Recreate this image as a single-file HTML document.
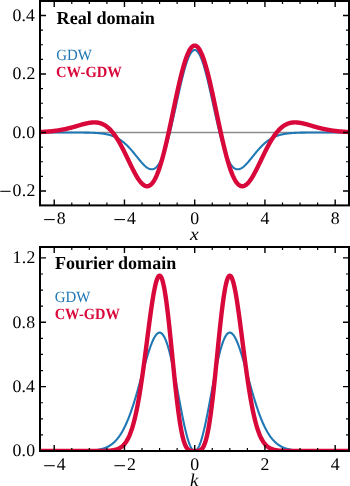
<!DOCTYPE html>
<html><head><meta charset="utf-8">
<style>
html,body{margin:0;padding:0;background:#fff;}
body{width:350px;height:486px;overflow:hidden;}
svg{display:block;will-change:transform;}
text{text-rendering:geometricPrecision;}
.tl{font-family:"Liberation Serif",serif;fill:#000;}
.tt{font-family:"Liberation Serif",serif;font-weight:bold;fill:#000;}
.lg{font-family:"Liberation Serif",serif;}
.ax{font-family:"Liberation Serif",serif;font-style:italic;fill:#000;}
</style></head><body>
<svg width="350" height="486" viewBox="0 0 350 486">
<defs>
<clipPath id="ct"><rect x="40.0" y="1.0" width="309.0" height="204.4"/></clipPath>
<clipPath id="cb"><rect x="40.0" y="247.0" width="309.0" height="204.0"/></clipPath>
</defs>
<rect width="350" height="486" fill="#fff"/>
<g clip-path="url(#ct)" fill="none" stroke-linejoin="round" stroke-linecap="butt">
<path d="M40.0,132.5H349.0" stroke="#8c8c8c" stroke-width="1.6"/>
<path d="M38.42,132.50 L38.86,132.50 L39.31,132.50 L39.76,132.50 L40.20,132.50 L40.65,132.50 L41.10,132.50 L41.55,132.50 L41.99,132.50 L42.44,132.50 L42.89,132.50 L43.33,132.50 L43.78,132.50 L44.23,132.50 L44.68,132.50 L45.12,132.50 L45.57,132.50 L46.02,132.50 L46.46,132.50 L46.91,132.50 L47.36,132.50 L47.81,132.50 L48.25,132.50 L48.70,132.50 L49.15,132.50 L49.60,132.50 L50.04,132.50 L50.49,132.50 L50.94,132.50 L51.38,132.50 L51.83,132.50 L52.28,132.50 L52.73,132.50 L53.17,132.50 L53.62,132.50 L54.07,132.50 L54.51,132.50 L54.96,132.50 L55.41,132.50 L55.86,132.50 L56.30,132.50 L56.75,132.50 L57.20,132.50 L57.64,132.50 L58.09,132.50 L58.54,132.50 L58.99,132.50 L59.43,132.50 L59.88,132.50 L60.33,132.50 L60.77,132.50 L61.22,132.50 L61.67,132.50 L62.12,132.50 L62.56,132.50 L63.01,132.50 L63.46,132.50 L63.90,132.50 L64.35,132.50 L64.80,132.50 L65.25,132.50 L65.69,132.50 L66.14,132.50 L66.59,132.50 L67.03,132.50 L67.48,132.50 L67.93,132.50 L68.38,132.50 L68.82,132.51 L69.27,132.51 L69.72,132.51 L70.16,132.51 L70.61,132.51 L71.06,132.51 L71.51,132.51 L71.95,132.51 L72.40,132.51 L72.85,132.51 L73.29,132.51 L73.74,132.51 L74.19,132.51 L74.64,132.52 L75.08,132.52 L75.53,132.52 L75.98,132.52 L76.42,132.52 L76.87,132.52 L77.32,132.52 L77.77,132.53 L78.21,132.53 L78.66,132.53 L79.11,132.53 L79.56,132.54 L80.00,132.54 L80.45,132.54 L80.90,132.55 L81.34,132.55 L81.79,132.55 L82.24,132.56 L82.69,132.56 L83.13,132.57 L83.58,132.57 L84.03,132.58 L84.47,132.58 L84.92,132.59 L85.37,132.59 L85.82,132.60 L86.26,132.61 L86.71,132.62 L87.16,132.62 L87.60,132.63 L88.05,132.64 L88.50,132.65 L88.95,132.66 L89.39,132.67 L89.84,132.69 L90.29,132.70 L90.73,132.71 L91.18,132.73 L91.63,132.74 L92.08,132.76 L92.52,132.78 L92.97,132.80 L93.42,132.82 L93.86,132.84 L94.31,132.86 L94.76,132.88 L95.21,132.91 L95.65,132.93 L96.10,132.96 L96.55,132.99 L96.99,133.02 L97.44,133.05 L97.89,133.09 L98.34,133.12 L98.78,133.16 L99.23,133.20 L99.68,133.24 L100.12,133.29 L100.57,133.34 L101.02,133.39 L101.47,133.44 L101.91,133.49 L102.36,133.55 L102.81,133.61 L103.25,133.68 L103.70,133.75 L104.15,133.82 L104.60,133.89 L105.04,133.97 L105.49,134.05 L105.94,134.13 L106.39,134.22 L106.83,134.32 L107.28,134.42 L107.73,134.52 L108.17,134.62 L108.62,134.74 L109.07,134.85 L109.52,134.97 L109.96,135.10 L110.41,135.23 L110.86,135.37 L111.30,135.52 L111.75,135.67 L112.20,135.82 L112.65,135.98 L113.09,136.15 L113.54,136.33 L113.99,136.51 L114.43,136.70 L114.88,136.90 L115.33,137.10 L115.78,137.31 L116.22,137.53 L116.67,137.76 L117.12,137.99 L117.56,138.23 L118.01,138.48 L118.46,138.74 L118.91,139.01 L119.35,139.29 L119.80,139.57 L120.25,139.86 L120.69,140.17 L121.14,140.48 L121.59,140.80 L122.04,141.13 L122.48,141.47 L122.93,141.82 L123.38,142.17 L123.82,142.54 L124.27,142.92 L124.72,143.30 L125.17,143.70 L125.61,144.10 L126.06,144.52 L126.51,144.94 L126.95,145.37 L127.40,145.81 L127.85,146.26 L128.30,146.72 L128.74,147.18 L129.19,147.66 L129.64,148.14 L130.08,148.63 L130.53,149.13 L130.98,149.63 L131.43,150.14 L131.87,150.66 L132.32,151.18 L132.77,151.71 L133.21,152.25 L133.66,152.79 L134.11,153.33 L134.56,153.88 L135.00,154.43 L135.45,154.98 L135.90,155.54 L136.35,156.09 L136.79,156.65 L137.24,157.21 L137.69,157.76 L138.13,158.32 L138.58,158.87 L139.03,159.42 L139.48,159.96 L139.92,160.50 L140.37,161.04 L140.82,161.56 L141.26,162.08 L141.71,162.59 L142.16,163.09 L142.61,163.58 L143.05,164.06 L143.50,164.52 L143.95,164.97 L144.39,165.41 L144.84,165.83 L145.29,166.23 L145.74,166.61 L146.18,166.97 L146.63,167.31 L147.08,167.63 L147.52,167.93 L147.97,168.20 L148.42,168.44 L148.87,168.66 L149.31,168.85 L149.76,169.00 L150.21,169.13 L150.65,169.23 L151.10,169.29 L151.55,169.32 L152.00,169.31 L152.44,169.27 L152.89,169.19 L153.34,169.07 L153.78,168.91 L154.23,168.71 L154.68,168.47 L155.13,168.18 L155.57,167.85 L156.02,167.48 L156.47,167.06 L156.91,166.60 L157.36,166.09 L157.81,165.53 L158.26,164.93 L158.70,164.28 L159.15,163.57 L159.60,162.82 L160.04,162.02 L160.49,161.18 L160.94,160.28 L161.39,159.33 L161.83,158.33 L162.28,157.28 L162.73,156.19 L163.17,155.04 L163.62,153.85 L164.07,152.60 L164.52,151.31 L164.96,149.98 L165.41,148.59 L165.86,147.17 L166.31,145.69 L166.75,144.17 L167.20,142.61 L167.65,141.01 L168.09,139.37 L168.54,137.69 L168.99,135.98 L169.44,134.22 L169.88,132.44 L170.33,130.62 L170.78,128.77 L171.22,126.89 L171.67,124.98 L172.12,123.05 L172.57,121.10 L173.01,119.13 L173.46,117.14 L173.91,115.13 L174.35,113.11 L174.80,111.08 L175.25,109.04 L175.70,106.99 L176.14,104.94 L176.59,102.89 L177.04,100.84 L177.48,98.80 L177.93,96.76 L178.38,94.73 L178.83,92.72 L179.27,90.72 L179.72,88.74 L180.17,86.78 L180.61,84.85 L181.06,82.94 L181.51,81.06 L181.96,79.22 L182.40,77.41 L182.85,75.63 L183.30,73.90 L183.74,72.21 L184.19,70.56 L184.64,68.97 L185.09,67.42 L185.53,65.93 L185.98,64.49 L186.43,63.10 L186.87,61.78 L187.32,60.52 L187.77,59.32 L188.22,58.19 L188.66,57.12 L189.11,56.13 L189.56,55.20 L190.00,54.35 L190.45,53.57 L190.90,52.86 L191.35,52.23 L191.79,51.67 L192.24,51.20 L192.69,50.80 L193.13,50.48 L193.58,50.24 L194.03,50.08 L194.48,50.00 L194.92,50.00 L195.37,50.08 L195.82,50.24 L196.27,50.48 L196.71,50.80 L197.16,51.20 L197.61,51.67 L198.05,52.23 L198.50,52.86 L198.95,53.57 L199.40,54.35 L199.84,55.20 L200.29,56.13 L200.74,57.12 L201.18,58.19 L201.63,59.32 L202.08,60.52 L202.53,61.78 L202.97,63.10 L203.42,64.49 L203.87,65.93 L204.31,67.42 L204.76,68.97 L205.21,70.56 L205.66,72.21 L206.10,73.90 L206.55,75.63 L207.00,77.41 L207.44,79.22 L207.89,81.06 L208.34,82.94 L208.79,84.85 L209.23,86.78 L209.68,88.74 L210.13,90.72 L210.57,92.72 L211.02,94.73 L211.47,96.76 L211.92,98.80 L212.36,100.84 L212.81,102.89 L213.26,104.94 L213.70,106.99 L214.15,109.04 L214.60,111.08 L215.05,113.11 L215.49,115.13 L215.94,117.14 L216.39,119.13 L216.83,121.10 L217.28,123.05 L217.73,124.98 L218.18,126.89 L218.62,128.77 L219.07,130.62 L219.52,132.44 L219.96,134.22 L220.41,135.98 L220.86,137.69 L221.31,139.37 L221.75,141.01 L222.20,142.61 L222.65,144.17 L223.09,145.69 L223.54,147.17 L223.99,148.59 L224.44,149.98 L224.88,151.31 L225.33,152.60 L225.78,153.85 L226.23,155.04 L226.67,156.19 L227.12,157.28 L227.57,158.33 L228.01,159.33 L228.46,160.28 L228.91,161.18 L229.36,162.02 L229.80,162.82 L230.25,163.57 L230.70,164.28 L231.14,164.93 L231.59,165.53 L232.04,166.09 L232.49,166.60 L232.93,167.06 L233.38,167.48 L233.83,167.85 L234.27,168.18 L234.72,168.47 L235.17,168.71 L235.62,168.91 L236.06,169.07 L236.51,169.19 L236.96,169.27 L237.40,169.31 L237.85,169.32 L238.30,169.29 L238.75,169.23 L239.19,169.13 L239.64,169.00 L240.09,168.85 L240.53,168.66 L240.98,168.44 L241.43,168.20 L241.88,167.93 L242.32,167.63 L242.77,167.31 L243.22,166.97 L243.66,166.61 L244.11,166.23 L244.56,165.83 L245.01,165.41 L245.45,164.97 L245.90,164.52 L246.35,164.06 L246.79,163.58 L247.24,163.09 L247.69,162.59 L248.14,162.08 L248.58,161.56 L249.03,161.04 L249.48,160.50 L249.92,159.96 L250.37,159.42 L250.82,158.87 L251.27,158.32 L251.71,157.76 L252.16,157.21 L252.61,156.65 L253.05,156.09 L253.50,155.54 L253.95,154.98 L254.40,154.43 L254.84,153.88 L255.29,153.33 L255.74,152.79 L256.19,152.25 L256.63,151.71 L257.08,151.18 L257.53,150.66 L257.97,150.14 L258.42,149.63 L258.87,149.13 L259.32,148.63 L259.76,148.14 L260.21,147.66 L260.66,147.18 L261.10,146.72 L261.55,146.26 L262.00,145.81 L262.45,145.37 L262.89,144.94 L263.34,144.52 L263.79,144.10 L264.23,143.70 L264.68,143.30 L265.13,142.92 L265.58,142.54 L266.02,142.17 L266.47,141.82 L266.92,141.47 L267.36,141.13 L267.81,140.80 L268.26,140.48 L268.71,140.17 L269.15,139.86 L269.60,139.57 L270.05,139.29 L270.49,139.01 L270.94,138.74 L271.39,138.48 L271.84,138.23 L272.28,137.99 L272.73,137.76 L273.18,137.53 L273.62,137.31 L274.07,137.10 L274.52,136.90 L274.97,136.70 L275.41,136.51 L275.86,136.33 L276.31,136.15 L276.75,135.98 L277.20,135.82 L277.65,135.67 L278.10,135.52 L278.54,135.37 L278.99,135.23 L279.44,135.10 L279.88,134.97 L280.33,134.85 L280.78,134.74 L281.23,134.62 L281.67,134.52 L282.12,134.42 L282.57,134.32 L283.01,134.22 L283.46,134.13 L283.91,134.05 L284.36,133.97 L284.80,133.89 L285.25,133.82 L285.70,133.75 L286.15,133.68 L286.59,133.61 L287.04,133.55 L287.49,133.49 L287.93,133.44 L288.38,133.39 L288.83,133.34 L289.28,133.29 L289.72,133.24 L290.17,133.20 L290.62,133.16 L291.06,133.12 L291.51,133.09 L291.96,133.05 L292.41,133.02 L292.85,132.99 L293.30,132.96 L293.75,132.93 L294.19,132.91 L294.64,132.88 L295.09,132.86 L295.54,132.84 L295.98,132.82 L296.43,132.80 L296.88,132.78 L297.32,132.76 L297.77,132.74 L298.22,132.73 L298.67,132.71 L299.11,132.70 L299.56,132.69 L300.01,132.67 L300.45,132.66 L300.90,132.65 L301.35,132.64 L301.80,132.63 L302.24,132.62 L302.69,132.62 L303.14,132.61 L303.58,132.60 L304.03,132.59 L304.48,132.59 L304.93,132.58 L305.37,132.58 L305.82,132.57 L306.27,132.57 L306.71,132.56 L307.16,132.56 L307.61,132.55 L308.06,132.55 L308.50,132.55 L308.95,132.54 L309.40,132.54 L309.84,132.54 L310.29,132.53 L310.74,132.53 L311.19,132.53 L311.63,132.53 L312.08,132.52 L312.53,132.52 L312.98,132.52 L313.42,132.52 L313.87,132.52 L314.32,132.52 L314.76,132.52 L315.21,132.51 L315.66,132.51 L316.11,132.51 L316.55,132.51 L317.00,132.51 L317.45,132.51 L317.89,132.51 L318.34,132.51 L318.79,132.51 L319.24,132.51 L319.68,132.51 L320.13,132.51 L320.58,132.51 L321.02,132.50 L321.47,132.50 L321.92,132.50 L322.37,132.50 L322.81,132.50 L323.26,132.50 L323.71,132.50 L324.15,132.50 L324.60,132.50 L325.05,132.50 L325.50,132.50 L325.94,132.50 L326.39,132.50 L326.84,132.50 L327.28,132.50 L327.73,132.50 L328.18,132.50 L328.63,132.50 L329.07,132.50 L329.52,132.50 L329.97,132.50 L330.41,132.50 L330.86,132.50 L331.31,132.50 L331.76,132.50 L332.20,132.50 L332.65,132.50 L333.10,132.50 L333.54,132.50 L333.99,132.50 L334.44,132.50 L334.89,132.50 L335.33,132.50 L335.78,132.50 L336.23,132.50 L336.67,132.50 L337.12,132.50 L337.57,132.50 L338.02,132.50 L338.46,132.50 L338.91,132.50 L339.36,132.50 L339.80,132.50 L340.25,132.50 L340.70,132.50 L341.15,132.50 L341.59,132.50 L342.04,132.50 L342.49,132.50 L342.94,132.50 L343.38,132.50 L343.83,132.50 L344.28,132.50 L344.72,132.50 L345.17,132.50 L345.62,132.50 L346.07,132.50 L346.51,132.50 L346.96,132.50 L347.41,132.50 L347.85,132.50 L348.30,132.50 L348.75,132.50 L349.20,132.50 L349.64,132.50 L350.09,132.50 L350.54,132.50 L350.98,132.50" stroke="#1f77b4" stroke-width="2.1"/>
<path d="M38.42,132.10 L38.86,132.08 L39.31,132.06 L39.76,132.04 L40.20,132.02 L40.65,132.00 L41.10,131.98 L41.55,131.96 L41.99,131.94 L42.44,131.92 L42.89,131.89 L43.33,131.87 L43.78,131.84 L44.23,131.81 L44.68,131.78 L45.12,131.76 L45.57,131.73 L46.02,131.69 L46.46,131.66 L46.91,131.63 L47.36,131.60 L47.81,131.56 L48.25,131.52 L48.70,131.49 L49.15,131.45 L49.60,131.41 L50.04,131.37 L50.49,131.32 L50.94,131.28 L51.38,131.23 L51.83,131.19 L52.28,131.14 L52.73,131.09 L53.17,131.04 L53.62,130.99 L54.07,130.93 L54.51,130.88 L54.96,130.82 L55.41,130.76 L55.86,130.70 L56.30,130.64 L56.75,130.58 L57.20,130.52 L57.64,130.45 L58.09,130.38 L58.54,130.31 L58.99,130.24 L59.43,130.17 L59.88,130.09 L60.33,130.01 L60.77,129.94 L61.22,129.86 L61.67,129.77 L62.12,129.69 L62.56,129.60 L63.01,129.52 L63.46,129.43 L63.90,129.34 L64.35,129.24 L64.80,129.15 L65.25,129.05 L65.69,128.96 L66.14,128.86 L66.59,128.75 L67.03,128.65 L67.48,128.55 L67.93,128.44 L68.38,128.33 L68.82,128.22 L69.27,128.11 L69.72,128.00 L70.16,127.88 L70.61,127.77 L71.06,127.65 L71.51,127.53 L71.95,127.41 L72.40,127.29 L72.85,127.17 L73.29,127.04 L73.74,126.92 L74.19,126.79 L74.64,126.67 L75.08,126.54 L75.53,126.41 L75.98,126.28 L76.42,126.15 L76.87,126.02 L77.32,125.89 L77.77,125.76 L78.21,125.63 L78.66,125.50 L79.11,125.37 L79.56,125.24 L80.00,125.12 L80.45,124.99 L80.90,124.86 L81.34,124.73 L81.79,124.61 L82.24,124.48 L82.69,124.36 L83.13,124.24 L83.58,124.12 L84.03,124.00 L84.47,123.89 L84.92,123.78 L85.37,123.67 L85.82,123.56 L86.26,123.46 L86.71,123.35 L87.16,123.26 L87.60,123.16 L88.05,123.08 L88.50,122.99 L88.95,122.91 L89.39,122.83 L89.84,122.76 L90.29,122.70 L90.73,122.64 L91.18,122.58 L91.63,122.54 L92.08,122.50 L92.52,122.46 L92.97,122.43 L93.42,122.41 L93.86,122.40 L94.31,122.39 L94.76,122.40 L95.21,122.41 L95.65,122.43 L96.10,122.46 L96.55,122.50 L96.99,122.55 L97.44,122.61 L97.89,122.67 L98.34,122.75 L98.78,122.84 L99.23,122.94 L99.68,123.06 L100.12,123.18 L100.57,123.32 L101.02,123.47 L101.47,123.63 L101.91,123.80 L102.36,123.99 L102.81,124.19 L103.25,124.40 L103.70,124.63 L104.15,124.88 L104.60,125.13 L105.04,125.40 L105.49,125.69 L105.94,125.99 L106.39,126.31 L106.83,126.64 L107.28,126.99 L107.73,127.35 L108.17,127.73 L108.62,128.12 L109.07,128.54 L109.52,128.96 L109.96,129.41 L110.41,129.87 L110.86,130.34 L111.30,130.84 L111.75,131.35 L112.20,131.87 L112.65,132.41 L113.09,132.97 L113.54,133.55 L113.99,134.14 L114.43,134.75 L114.88,135.37 L115.33,136.01 L115.78,136.67 L116.22,137.34 L116.67,138.02 L117.12,138.73 L117.56,139.44 L118.01,140.17 L118.46,140.92 L118.91,141.68 L119.35,142.45 L119.80,143.24 L120.25,144.04 L120.69,144.85 L121.14,145.67 L121.59,146.51 L122.04,147.36 L122.48,148.21 L122.93,149.08 L123.38,149.95 L123.82,150.84 L124.27,151.73 L124.72,152.63 L125.17,153.54 L125.61,154.45 L126.06,155.36 L126.51,156.28 L126.95,157.21 L127.40,158.14 L127.85,159.07 L128.30,160.00 L128.74,160.93 L129.19,161.86 L129.64,162.78 L130.08,163.71 L130.53,164.63 L130.98,165.55 L131.43,166.46 L131.87,167.36 L132.32,168.26 L132.77,169.15 L133.21,170.03 L133.66,170.89 L134.11,171.75 L134.56,172.59 L135.00,173.42 L135.45,174.23 L135.90,175.03 L136.35,175.80 L136.79,176.56 L137.24,177.30 L137.69,178.02 L138.13,178.72 L138.58,179.39 L139.03,180.04 L139.48,180.66 L139.92,181.25 L140.37,181.82 L140.82,182.36 L141.26,182.87 L141.71,183.34 L142.16,183.79 L142.61,184.20 L143.05,184.57 L143.50,184.91 L143.95,185.22 L144.39,185.49 L144.84,185.71 L145.29,185.90 L145.74,186.05 L146.18,186.16 L146.63,186.23 L147.08,186.25 L147.52,186.23 L147.97,186.16 L148.42,186.05 L148.87,185.90 L149.31,185.70 L149.76,185.45 L150.21,185.15 L150.65,184.81 L151.10,184.42 L151.55,183.98 L152.00,183.49 L152.44,182.95 L152.89,182.36 L153.34,181.72 L153.78,181.03 L154.23,180.29 L154.68,179.51 L155.13,178.67 L155.57,177.78 L156.02,176.84 L156.47,175.86 L156.91,174.82 L157.36,173.74 L157.81,172.60 L158.26,171.42 L158.70,170.19 L159.15,168.92 L159.60,167.60 L160.04,166.23 L160.49,164.82 L160.94,163.36 L161.39,161.86 L161.83,160.32 L162.28,158.74 L162.73,157.12 L163.17,155.46 L163.62,153.76 L164.07,152.02 L164.52,150.25 L164.96,148.45 L165.41,146.61 L165.86,144.74 L166.31,142.84 L166.75,140.91 L167.20,138.96 L167.65,136.98 L168.09,134.98 L168.54,132.96 L168.99,130.92 L169.44,128.86 L169.88,126.78 L170.33,124.69 L170.78,122.59 L171.22,120.48 L171.67,118.36 L172.12,116.23 L172.57,114.10 L173.01,111.97 L173.46,109.83 L173.91,107.70 L174.35,105.58 L174.80,103.45 L175.25,101.34 L175.70,99.24 L176.14,97.15 L176.59,95.07 L177.04,93.02 L177.48,90.98 L177.93,88.96 L178.38,86.96 L178.83,84.99 L179.27,83.05 L179.72,81.13 L180.17,79.25 L180.61,77.40 L181.06,75.59 L181.51,73.81 L181.96,72.07 L182.40,70.38 L182.85,68.72 L183.30,67.11 L183.74,65.55 L184.19,64.04 L184.64,62.57 L185.09,61.16 L185.53,59.80 L185.98,58.49 L186.43,57.24 L186.87,56.05 L187.32,54.92 L187.77,53.84 L188.22,52.83 L188.66,51.88 L189.11,50.99 L189.56,50.17 L190.00,49.41 L190.45,48.72 L190.90,48.10 L191.35,47.54 L191.79,47.05 L192.24,46.63 L192.69,46.28 L193.13,46.00 L193.58,45.79 L194.03,45.65 L194.48,45.58 L194.92,45.58 L195.37,45.65 L195.82,45.79 L196.27,46.00 L196.71,46.28 L197.16,46.63 L197.61,47.05 L198.05,47.54 L198.50,48.10 L198.95,48.72 L199.40,49.41 L199.84,50.17 L200.29,50.99 L200.74,51.88 L201.18,52.83 L201.63,53.84 L202.08,54.92 L202.53,56.05 L202.97,57.24 L203.42,58.49 L203.87,59.80 L204.31,61.16 L204.76,62.57 L205.21,64.04 L205.66,65.55 L206.10,67.11 L206.55,68.72 L207.00,70.38 L207.44,72.07 L207.89,73.81 L208.34,75.59 L208.79,77.40 L209.23,79.25 L209.68,81.13 L210.13,83.05 L210.57,84.99 L211.02,86.96 L211.47,88.96 L211.92,90.98 L212.36,93.02 L212.81,95.07 L213.26,97.15 L213.70,99.24 L214.15,101.34 L214.60,103.45 L215.05,105.58 L215.49,107.70 L215.94,109.83 L216.39,111.97 L216.83,114.10 L217.28,116.23 L217.73,118.36 L218.18,120.48 L218.62,122.59 L219.07,124.69 L219.52,126.78 L219.96,128.86 L220.41,130.92 L220.86,132.96 L221.31,134.98 L221.75,136.98 L222.20,138.96 L222.65,140.91 L223.09,142.84 L223.54,144.74 L223.99,146.61 L224.44,148.45 L224.88,150.25 L225.33,152.02 L225.78,153.76 L226.23,155.46 L226.67,157.12 L227.12,158.74 L227.57,160.32 L228.01,161.86 L228.46,163.36 L228.91,164.82 L229.36,166.23 L229.80,167.60 L230.25,168.92 L230.70,170.19 L231.14,171.42 L231.59,172.60 L232.04,173.74 L232.49,174.82 L232.93,175.86 L233.38,176.84 L233.83,177.78 L234.27,178.67 L234.72,179.51 L235.17,180.29 L235.62,181.03 L236.06,181.72 L236.51,182.36 L236.96,182.95 L237.40,183.49 L237.85,183.98 L238.30,184.42 L238.75,184.81 L239.19,185.15 L239.64,185.45 L240.09,185.70 L240.53,185.90 L240.98,186.05 L241.43,186.16 L241.88,186.23 L242.32,186.25 L242.77,186.23 L243.22,186.16 L243.66,186.05 L244.11,185.90 L244.56,185.71 L245.01,185.49 L245.45,185.22 L245.90,184.91 L246.35,184.57 L246.79,184.20 L247.24,183.79 L247.69,183.34 L248.14,182.87 L248.58,182.36 L249.03,181.82 L249.48,181.25 L249.92,180.66 L250.37,180.04 L250.82,179.39 L251.27,178.72 L251.71,178.02 L252.16,177.30 L252.61,176.56 L253.05,175.80 L253.50,175.03 L253.95,174.23 L254.40,173.42 L254.84,172.59 L255.29,171.75 L255.74,170.89 L256.19,170.03 L256.63,169.15 L257.08,168.26 L257.53,167.36 L257.97,166.46 L258.42,165.55 L258.87,164.63 L259.32,163.71 L259.76,162.78 L260.21,161.86 L260.66,160.93 L261.10,160.00 L261.55,159.07 L262.00,158.14 L262.45,157.21 L262.89,156.28 L263.34,155.36 L263.79,154.45 L264.23,153.54 L264.68,152.63 L265.13,151.73 L265.58,150.84 L266.02,149.95 L266.47,149.08 L266.92,148.21 L267.36,147.36 L267.81,146.51 L268.26,145.67 L268.71,144.85 L269.15,144.04 L269.60,143.24 L270.05,142.45 L270.49,141.68 L270.94,140.92 L271.39,140.17 L271.84,139.44 L272.28,138.73 L272.73,138.02 L273.18,137.34 L273.62,136.67 L274.07,136.01 L274.52,135.37 L274.97,134.75 L275.41,134.14 L275.86,133.55 L276.31,132.97 L276.75,132.41 L277.20,131.87 L277.65,131.35 L278.10,130.84 L278.54,130.34 L278.99,129.87 L279.44,129.41 L279.88,128.96 L280.33,128.54 L280.78,128.12 L281.23,127.73 L281.67,127.35 L282.12,126.99 L282.57,126.64 L283.01,126.31 L283.46,125.99 L283.91,125.69 L284.36,125.40 L284.80,125.13 L285.25,124.88 L285.70,124.63 L286.15,124.40 L286.59,124.19 L287.04,123.99 L287.49,123.80 L287.93,123.63 L288.38,123.47 L288.83,123.32 L289.28,123.18 L289.72,123.06 L290.17,122.94 L290.62,122.84 L291.06,122.75 L291.51,122.67 L291.96,122.61 L292.41,122.55 L292.85,122.50 L293.30,122.46 L293.75,122.43 L294.19,122.41 L294.64,122.40 L295.09,122.39 L295.54,122.40 L295.98,122.41 L296.43,122.43 L296.88,122.46 L297.32,122.50 L297.77,122.54 L298.22,122.58 L298.67,122.64 L299.11,122.70 L299.56,122.76 L300.01,122.83 L300.45,122.91 L300.90,122.99 L301.35,123.08 L301.80,123.16 L302.24,123.26 L302.69,123.35 L303.14,123.46 L303.58,123.56 L304.03,123.67 L304.48,123.78 L304.93,123.89 L305.37,124.00 L305.82,124.12 L306.27,124.24 L306.71,124.36 L307.16,124.48 L307.61,124.61 L308.06,124.73 L308.50,124.86 L308.95,124.99 L309.40,125.12 L309.84,125.24 L310.29,125.37 L310.74,125.50 L311.19,125.63 L311.63,125.76 L312.08,125.89 L312.53,126.02 L312.98,126.15 L313.42,126.28 L313.87,126.41 L314.32,126.54 L314.76,126.67 L315.21,126.79 L315.66,126.92 L316.11,127.04 L316.55,127.17 L317.00,127.29 L317.45,127.41 L317.89,127.53 L318.34,127.65 L318.79,127.77 L319.24,127.88 L319.68,128.00 L320.13,128.11 L320.58,128.22 L321.02,128.33 L321.47,128.44 L321.92,128.55 L322.37,128.65 L322.81,128.75 L323.26,128.86 L323.71,128.96 L324.15,129.05 L324.60,129.15 L325.05,129.24 L325.50,129.34 L325.94,129.43 L326.39,129.52 L326.84,129.60 L327.28,129.69 L327.73,129.77 L328.18,129.86 L328.63,129.94 L329.07,130.01 L329.52,130.09 L329.97,130.17 L330.41,130.24 L330.86,130.31 L331.31,130.38 L331.76,130.45 L332.20,130.52 L332.65,130.58 L333.10,130.64 L333.54,130.70 L333.99,130.76 L334.44,130.82 L334.89,130.88 L335.33,130.93 L335.78,130.99 L336.23,131.04 L336.67,131.09 L337.12,131.14 L337.57,131.19 L338.02,131.23 L338.46,131.28 L338.91,131.32 L339.36,131.37 L339.80,131.41 L340.25,131.45 L340.70,131.49 L341.15,131.52 L341.59,131.56 L342.04,131.60 L342.49,131.63 L342.94,131.66 L343.38,131.69 L343.83,131.73 L344.28,131.76 L344.72,131.78 L345.17,131.81 L345.62,131.84 L346.07,131.87 L346.51,131.89 L346.96,131.92 L347.41,131.94 L347.85,131.96 L348.30,131.98 L348.75,132.00 L349.20,132.02 L349.64,132.04 L350.09,132.06 L350.54,132.08 L350.98,132.10" stroke="#d8083a" stroke-width="4.4"/>
</g>
<g clip-path="url(#cb)" fill="none" stroke-linejoin="round" stroke-linecap="butt">
<path d="M38.42,451.00 L38.86,451.00 L39.31,451.00 L39.76,451.00 L40.20,451.00 L40.65,451.00 L41.10,451.00 L41.55,451.00 L41.99,451.00 L42.44,451.00 L42.89,451.00 L43.33,451.00 L43.78,451.00 L44.23,451.00 L44.68,451.00 L45.12,451.00 L45.57,451.00 L46.02,451.00 L46.46,451.00 L46.91,451.00 L47.36,451.00 L47.81,451.00 L48.25,451.00 L48.70,451.00 L49.15,451.00 L49.60,451.00 L50.04,451.00 L50.49,451.00 L50.94,451.00 L51.38,451.00 L51.83,451.00 L52.28,451.00 L52.73,451.00 L53.17,451.00 L53.62,451.00 L54.07,451.00 L54.51,451.00 L54.96,451.00 L55.41,451.00 L55.86,451.00 L56.30,451.00 L56.75,451.00 L57.20,451.00 L57.64,451.00 L58.09,451.00 L58.54,451.00 L58.99,451.00 L59.43,451.00 L59.88,451.00 L60.33,451.00 L60.77,451.00 L61.22,451.00 L61.67,451.00 L62.12,451.00 L62.56,451.00 L63.01,451.00 L63.46,451.00 L63.90,451.00 L64.35,451.00 L64.80,450.99 L65.25,450.99 L65.69,450.99 L66.14,450.99 L66.59,450.99 L67.03,450.99 L67.48,450.99 L67.93,450.99 L68.38,450.99 L68.82,450.99 L69.27,450.99 L69.72,450.99 L70.16,450.99 L70.61,450.98 L71.06,450.98 L71.51,450.98 L71.95,450.98 L72.40,450.98 L72.85,450.98 L73.29,450.98 L73.74,450.97 L74.19,450.97 L74.64,450.97 L75.08,450.97 L75.53,450.96 L75.98,450.96 L76.42,450.96 L76.87,450.95 L77.32,450.95 L77.77,450.95 L78.21,450.94 L78.66,450.94 L79.11,450.93 L79.56,450.93 L80.00,450.92 L80.45,450.91 L80.90,450.91 L81.34,450.90 L81.79,450.89 L82.24,450.88 L82.69,450.87 L83.13,450.87 L83.58,450.86 L84.03,450.84 L84.47,450.83 L84.92,450.82 L85.37,450.81 L85.82,450.79 L86.26,450.78 L86.71,450.76 L87.16,450.74 L87.60,450.73 L88.05,450.71 L88.50,450.69 L88.95,450.66 L89.39,450.64 L89.84,450.61 L90.29,450.59 L90.73,450.56 L91.18,450.53 L91.63,450.50 L92.08,450.46 L92.52,450.43 L92.97,450.39 L93.42,450.35 L93.86,450.30 L94.31,450.26 L94.76,450.21 L95.21,450.16 L95.65,450.10 L96.10,450.04 L96.55,449.98 L96.99,449.92 L97.44,449.85 L97.89,449.77 L98.34,449.70 L98.78,449.62 L99.23,449.53 L99.68,449.44 L100.12,449.35 L100.57,449.25 L101.02,449.14 L101.47,449.03 L101.91,448.91 L102.36,448.79 L102.81,448.66 L103.25,448.52 L103.70,448.38 L104.15,448.23 L104.60,448.07 L105.04,447.90 L105.49,447.73 L105.94,447.54 L106.39,447.35 L106.83,447.15 L107.28,446.94 L107.73,446.72 L108.17,446.49 L108.62,446.24 L109.07,445.99 L109.52,445.73 L109.96,445.45 L110.41,445.16 L110.86,444.86 L111.30,444.55 L111.75,444.22 L112.20,443.88 L112.65,443.52 L113.09,443.15 L113.54,442.76 L113.99,442.36 L114.43,441.94 L114.88,441.51 L115.33,441.06 L115.78,440.59 L116.22,440.10 L116.67,439.59 L117.12,439.07 L117.56,438.53 L118.01,437.96 L118.46,437.38 L118.91,436.78 L119.35,436.15 L119.80,435.51 L120.25,434.84 L120.69,434.15 L121.14,433.44 L121.59,432.70 L122.04,431.95 L122.48,431.17 L122.93,430.36 L123.38,429.53 L123.82,428.68 L124.27,427.80 L124.72,426.90 L125.17,425.97 L125.61,425.02 L126.06,424.04 L126.51,423.04 L126.95,422.01 L127.40,420.96 L127.85,419.88 L128.30,418.77 L128.74,417.64 L129.19,416.48 L129.64,415.30 L130.08,414.10 L130.53,412.87 L130.98,411.61 L131.43,410.33 L131.87,409.03 L132.32,407.70 L132.77,406.36 L133.21,404.98 L133.66,403.59 L134.11,402.18 L134.56,400.74 L135.00,399.29 L135.45,397.82 L135.90,396.33 L136.35,394.82 L136.79,393.29 L137.24,391.75 L137.69,390.20 L138.13,388.64 L138.58,387.06 L139.03,385.47 L139.48,383.87 L139.92,382.27 L140.37,380.66 L140.82,379.04 L141.26,377.42 L141.71,375.80 L142.16,374.19 L142.61,372.57 L143.05,370.95 L143.50,369.35 L143.95,367.74 L144.39,366.15 L144.84,364.57 L145.29,363.00 L145.74,361.45 L146.18,359.92 L146.63,358.40 L147.08,356.91 L147.52,355.44 L147.97,354.00 L148.42,352.58 L148.87,351.19 L149.31,349.84 L149.76,348.52 L150.21,347.24 L150.65,346.00 L151.10,344.80 L151.55,343.64 L152.00,342.53 L152.44,341.47 L152.89,340.46 L153.34,339.50 L153.78,338.59 L154.23,337.74 L154.68,336.95 L155.13,336.22 L155.57,335.55 L156.02,334.95 L156.47,334.41 L156.91,333.94 L157.36,333.54 L157.81,333.21 L158.26,332.95 L158.70,332.76 L159.15,332.65 L159.60,332.62 L160.04,332.66 L160.49,332.78 L160.94,332.98 L161.39,333.25 L161.83,333.61 L162.28,334.05 L162.73,334.56 L163.17,335.16 L163.62,335.84 L164.07,336.60 L164.52,337.44 L164.96,338.36 L165.41,339.36 L165.86,340.43 L166.31,341.59 L166.75,342.82 L167.20,344.13 L167.65,345.51 L168.09,346.96 L168.54,348.49 L168.99,350.08 L169.44,351.74 L169.88,353.47 L170.33,355.26 L170.78,357.11 L171.22,359.02 L171.67,360.99 L172.12,363.01 L172.57,365.08 L173.01,367.19 L173.46,369.35 L173.91,371.55 L174.35,373.79 L174.80,376.06 L175.25,378.36 L175.70,380.69 L176.14,383.04 L176.59,385.41 L177.04,387.79 L177.48,390.19 L177.93,392.59 L178.38,395.00 L178.83,397.40 L179.27,399.80 L179.72,402.19 L180.17,404.57 L180.61,406.93 L181.06,409.26 L181.51,411.57 L181.96,413.85 L182.40,416.10 L182.85,418.31 L183.30,420.47 L183.74,422.59 L184.19,424.66 L184.64,426.67 L185.09,428.63 L185.53,430.52 L185.98,432.35 L186.43,434.11 L186.87,435.80 L187.32,437.41 L187.77,438.95 L188.22,440.40 L188.66,441.77 L189.11,443.05 L189.56,444.25 L190.00,445.35 L190.45,446.36 L190.90,447.27 L191.35,448.09 L191.79,448.81 L192.24,449.43 L192.69,449.95 L193.13,450.36 L193.58,450.67 L194.03,450.88 L194.48,450.99 L194.92,450.99 L195.37,450.88 L195.82,450.67 L196.27,450.36 L196.71,449.95 L197.16,449.43 L197.61,448.81 L198.05,448.09 L198.50,447.27 L198.95,446.36 L199.40,445.35 L199.84,444.25 L200.29,443.05 L200.74,441.77 L201.18,440.40 L201.63,438.95 L202.08,437.41 L202.53,435.80 L202.97,434.11 L203.42,432.35 L203.87,430.52 L204.31,428.63 L204.76,426.67 L205.21,424.66 L205.66,422.59 L206.10,420.47 L206.55,418.31 L207.00,416.10 L207.44,413.85 L207.89,411.57 L208.34,409.26 L208.79,406.93 L209.23,404.57 L209.68,402.19 L210.13,399.80 L210.57,397.40 L211.02,395.00 L211.47,392.59 L211.92,390.19 L212.36,387.79 L212.81,385.41 L213.26,383.04 L213.70,380.69 L214.15,378.36 L214.60,376.06 L215.05,373.79 L215.49,371.55 L215.94,369.35 L216.39,367.19 L216.83,365.08 L217.28,363.01 L217.73,360.99 L218.18,359.02 L218.62,357.11 L219.07,355.26 L219.52,353.47 L219.96,351.74 L220.41,350.08 L220.86,348.49 L221.31,346.96 L221.75,345.51 L222.20,344.13 L222.65,342.82 L223.09,341.59 L223.54,340.43 L223.99,339.36 L224.44,338.36 L224.88,337.44 L225.33,336.60 L225.78,335.84 L226.23,335.16 L226.67,334.56 L227.12,334.05 L227.57,333.61 L228.01,333.25 L228.46,332.98 L228.91,332.78 L229.36,332.66 L229.80,332.62 L230.25,332.65 L230.70,332.76 L231.14,332.95 L231.59,333.21 L232.04,333.54 L232.49,333.94 L232.93,334.41 L233.38,334.95 L233.83,335.55 L234.27,336.22 L234.72,336.95 L235.17,337.74 L235.62,338.59 L236.06,339.50 L236.51,340.46 L236.96,341.47 L237.40,342.53 L237.85,343.64 L238.30,344.80 L238.75,346.00 L239.19,347.24 L239.64,348.52 L240.09,349.84 L240.53,351.19 L240.98,352.58 L241.43,354.00 L241.88,355.44 L242.32,356.91 L242.77,358.40 L243.22,359.92 L243.66,361.45 L244.11,363.00 L244.56,364.57 L245.01,366.15 L245.45,367.74 L245.90,369.35 L246.35,370.95 L246.79,372.57 L247.24,374.19 L247.69,375.80 L248.14,377.42 L248.58,379.04 L249.03,380.66 L249.48,382.27 L249.92,383.87 L250.37,385.47 L250.82,387.06 L251.27,388.64 L251.71,390.20 L252.16,391.75 L252.61,393.29 L253.05,394.82 L253.50,396.33 L253.95,397.82 L254.40,399.29 L254.84,400.74 L255.29,402.18 L255.74,403.59 L256.19,404.98 L256.63,406.36 L257.08,407.70 L257.53,409.03 L257.97,410.33 L258.42,411.61 L258.87,412.87 L259.32,414.10 L259.76,415.30 L260.21,416.48 L260.66,417.64 L261.10,418.77 L261.55,419.88 L262.00,420.96 L262.45,422.01 L262.89,423.04 L263.34,424.04 L263.79,425.02 L264.23,425.97 L264.68,426.90 L265.13,427.80 L265.58,428.68 L266.02,429.53 L266.47,430.36 L266.92,431.17 L267.36,431.95 L267.81,432.70 L268.26,433.44 L268.71,434.15 L269.15,434.84 L269.60,435.51 L270.05,436.15 L270.49,436.78 L270.94,437.38 L271.39,437.96 L271.84,438.53 L272.28,439.07 L272.73,439.59 L273.18,440.10 L273.62,440.59 L274.07,441.06 L274.52,441.51 L274.97,441.94 L275.41,442.36 L275.86,442.76 L276.31,443.15 L276.75,443.52 L277.20,443.88 L277.65,444.22 L278.10,444.55 L278.54,444.86 L278.99,445.16 L279.44,445.45 L279.88,445.73 L280.33,445.99 L280.78,446.24 L281.23,446.49 L281.67,446.72 L282.12,446.94 L282.57,447.15 L283.01,447.35 L283.46,447.54 L283.91,447.73 L284.36,447.90 L284.80,448.07 L285.25,448.23 L285.70,448.38 L286.15,448.52 L286.59,448.66 L287.04,448.79 L287.49,448.91 L287.93,449.03 L288.38,449.14 L288.83,449.25 L289.28,449.35 L289.72,449.44 L290.17,449.53 L290.62,449.62 L291.06,449.70 L291.51,449.77 L291.96,449.85 L292.41,449.92 L292.85,449.98 L293.30,450.04 L293.75,450.10 L294.19,450.16 L294.64,450.21 L295.09,450.26 L295.54,450.30 L295.98,450.35 L296.43,450.39 L296.88,450.43 L297.32,450.46 L297.77,450.50 L298.22,450.53 L298.67,450.56 L299.11,450.59 L299.56,450.61 L300.01,450.64 L300.45,450.66 L300.90,450.69 L301.35,450.71 L301.80,450.73 L302.24,450.74 L302.69,450.76 L303.14,450.78 L303.58,450.79 L304.03,450.81 L304.48,450.82 L304.93,450.83 L305.37,450.84 L305.82,450.86 L306.27,450.87 L306.71,450.87 L307.16,450.88 L307.61,450.89 L308.06,450.90 L308.50,450.91 L308.95,450.91 L309.40,450.92 L309.84,450.93 L310.29,450.93 L310.74,450.94 L311.19,450.94 L311.63,450.95 L312.08,450.95 L312.53,450.95 L312.98,450.96 L313.42,450.96 L313.87,450.96 L314.32,450.97 L314.76,450.97 L315.21,450.97 L315.66,450.97 L316.11,450.98 L316.55,450.98 L317.00,450.98 L317.45,450.98 L317.89,450.98 L318.34,450.98 L318.79,450.98 L319.24,450.99 L319.68,450.99 L320.13,450.99 L320.58,450.99 L321.02,450.99 L321.47,450.99 L321.92,450.99 L322.37,450.99 L322.81,450.99 L323.26,450.99 L323.71,450.99 L324.15,450.99 L324.60,450.99 L325.05,451.00 L325.50,451.00 L325.94,451.00 L326.39,451.00 L326.84,451.00 L327.28,451.00 L327.73,451.00 L328.18,451.00 L328.63,451.00 L329.07,451.00 L329.52,451.00 L329.97,451.00 L330.41,451.00 L330.86,451.00 L331.31,451.00 L331.76,451.00 L332.20,451.00 L332.65,451.00 L333.10,451.00 L333.54,451.00 L333.99,451.00 L334.44,451.00 L334.89,451.00 L335.33,451.00 L335.78,451.00 L336.23,451.00 L336.67,451.00 L337.12,451.00 L337.57,451.00 L338.02,451.00 L338.46,451.00 L338.91,451.00 L339.36,451.00 L339.80,451.00 L340.25,451.00 L340.70,451.00 L341.15,451.00 L341.59,451.00 L342.04,451.00 L342.49,451.00 L342.94,451.00 L343.38,451.00 L343.83,451.00 L344.28,451.00 L344.72,451.00 L345.17,451.00 L345.62,451.00 L346.07,451.00 L346.51,451.00 L346.96,451.00 L347.41,451.00 L347.85,451.00 L348.30,451.00 L348.75,451.00 L349.20,451.00 L349.64,451.00 L350.09,451.00 L350.54,451.00 L350.98,451.00" stroke="#1f77b4" stroke-width="2.1"/>
<path d="M38.42,451.00 L38.86,451.00 L39.31,451.00 L39.76,451.00 L40.20,451.00 L40.65,451.00 L41.10,451.00 L41.55,451.00 L41.99,451.00 L42.44,451.00 L42.89,451.00 L43.33,451.00 L43.78,451.00 L44.23,451.00 L44.68,451.00 L45.12,451.00 L45.57,451.00 L46.02,451.00 L46.46,451.00 L46.91,451.00 L47.36,451.00 L47.81,451.00 L48.25,451.00 L48.70,451.00 L49.15,451.00 L49.60,451.00 L50.04,451.00 L50.49,451.00 L50.94,451.00 L51.38,451.00 L51.83,451.00 L52.28,451.00 L52.73,451.00 L53.17,451.00 L53.62,451.00 L54.07,451.00 L54.51,451.00 L54.96,451.00 L55.41,451.00 L55.86,451.00 L56.30,451.00 L56.75,451.00 L57.20,451.00 L57.64,451.00 L58.09,451.00 L58.54,451.00 L58.99,451.00 L59.43,451.00 L59.88,451.00 L60.33,451.00 L60.77,451.00 L61.22,451.00 L61.67,451.00 L62.12,451.00 L62.56,451.00 L63.01,451.00 L63.46,451.00 L63.90,451.00 L64.35,451.00 L64.80,451.00 L65.25,451.00 L65.69,451.00 L66.14,451.00 L66.59,451.00 L67.03,451.00 L67.48,451.00 L67.93,451.00 L68.38,451.00 L68.82,451.00 L69.27,451.00 L69.72,451.00 L70.16,451.00 L70.61,451.00 L71.06,451.00 L71.51,451.00 L71.95,451.00 L72.40,451.00 L72.85,451.00 L73.29,451.00 L73.74,451.00 L74.19,451.00 L74.64,451.00 L75.08,451.00 L75.53,451.00 L75.98,451.00 L76.42,451.00 L76.87,451.00 L77.32,451.00 L77.77,451.00 L78.21,451.00 L78.66,451.00 L79.11,451.00 L79.56,451.00 L80.00,451.00 L80.45,451.00 L80.90,451.00 L81.34,451.00 L81.79,451.00 L82.24,451.00 L82.69,451.00 L83.13,451.00 L83.58,451.00 L84.03,451.00 L84.47,451.00 L84.92,451.00 L85.37,451.00 L85.82,451.00 L86.26,451.00 L86.71,451.00 L87.16,451.00 L87.60,451.00 L88.05,451.00 L88.50,451.00 L88.95,451.00 L89.39,451.00 L89.84,451.00 L90.29,451.00 L90.73,451.00 L91.18,451.00 L91.63,451.00 L92.08,451.00 L92.52,451.00 L92.97,451.00 L93.42,450.99 L93.86,450.99 L94.31,450.99 L94.76,450.99 L95.21,450.99 L95.65,450.99 L96.10,450.99 L96.55,450.99 L96.99,450.99 L97.44,450.98 L97.89,450.98 L98.34,450.98 L98.78,450.98 L99.23,450.97 L99.68,450.97 L100.12,450.97 L100.57,450.96 L101.02,450.96 L101.47,450.95 L101.91,450.95 L102.36,450.94 L102.81,450.93 L103.25,450.92 L103.70,450.91 L104.15,450.90 L104.60,450.89 L105.04,450.88 L105.49,450.87 L105.94,450.85 L106.39,450.83 L106.83,450.81 L107.28,450.79 L107.73,450.77 L108.17,450.75 L108.62,450.72 L109.07,450.69 L109.52,450.65 L109.96,450.61 L110.41,450.57 L110.86,450.53 L111.30,450.48 L111.75,450.42 L112.20,450.37 L112.65,450.30 L113.09,450.23 L113.54,450.15 L113.99,450.07 L114.43,449.97 L114.88,449.87 L115.33,449.76 L115.78,449.64 L116.22,449.51 L116.67,449.37 L117.12,449.22 L117.56,449.05 L118.01,448.87 L118.46,448.68 L118.91,448.47 L119.35,448.24 L119.80,448.00 L120.25,447.73 L120.69,447.45 L121.14,447.14 L121.59,446.81 L122.04,446.46 L122.48,446.08 L122.93,445.67 L123.38,445.24 L123.82,444.77 L124.27,444.27 L124.72,443.73 L125.17,443.16 L125.61,442.56 L126.06,441.91 L126.51,441.22 L126.95,440.49 L127.40,439.71 L127.85,438.88 L128.30,438.01 L128.74,437.08 L129.19,436.10 L129.64,435.06 L130.08,433.97 L130.53,432.81 L130.98,431.60 L131.43,430.32 L131.87,428.97 L132.32,427.55 L132.77,426.07 L133.21,424.52 L133.66,422.89 L134.11,421.19 L134.56,419.41 L135.00,417.55 L135.45,415.62 L135.90,413.61 L136.35,411.52 L136.79,409.35 L137.24,407.10 L137.69,404.77 L138.13,402.35 L138.58,399.86 L139.03,397.29 L139.48,394.64 L139.92,391.91 L140.37,389.11 L140.82,386.24 L141.26,383.29 L141.71,380.28 L142.16,377.20 L142.61,374.06 L143.05,370.86 L143.50,367.60 L143.95,364.30 L144.39,360.95 L144.84,357.57 L145.29,354.15 L145.74,350.70 L146.18,347.24 L146.63,343.75 L147.08,340.27 L147.52,336.78 L147.97,333.30 L148.42,329.84 L148.87,326.41 L149.31,323.01 L149.76,319.65 L150.21,316.35 L150.65,313.10 L151.10,309.93 L151.55,306.84 L152.00,303.84 L152.44,300.95 L152.89,298.16 L153.34,295.49 L153.78,292.96 L154.23,290.56 L154.68,288.31 L155.13,286.22 L155.57,284.30 L156.02,282.55 L156.47,280.98 L156.91,279.61 L157.36,278.43 L157.81,277.45 L158.26,276.69 L158.70,276.14 L159.15,275.81 L159.60,275.71 L160.04,275.83 L160.49,276.18 L160.94,276.77 L161.39,277.59 L161.83,278.63 L162.28,279.92 L162.73,281.43 L163.17,283.16 L163.62,285.12 L164.07,287.30 L164.52,289.70 L164.96,292.30 L165.41,295.10 L165.86,298.09 L166.31,301.27 L166.75,304.62 L167.20,308.14 L167.65,311.81 L168.09,315.62 L168.54,319.56 L168.99,323.62 L169.44,327.78 L169.88,332.03 L170.33,336.36 L170.78,340.75 L171.22,345.19 L171.67,349.66 L172.12,354.16 L172.57,358.66 L173.01,363.15 L173.46,367.62 L173.91,372.05 L174.35,376.44 L174.80,380.76 L175.25,385.01 L175.70,389.17 L176.14,393.23 L176.59,397.19 L177.04,401.03 L177.48,404.75 L177.93,408.33 L178.38,411.77 L178.83,415.07 L179.27,418.21 L179.72,421.20 L180.17,424.03 L180.61,426.70 L181.06,429.21 L181.51,431.56 L181.96,433.74 L182.40,435.76 L182.85,437.63 L183.30,439.34 L183.74,440.90 L184.19,442.32 L184.64,443.60 L185.09,444.74 L185.53,445.75 L185.98,446.65 L186.43,447.43 L186.87,448.11 L187.32,448.69 L187.77,449.18 L188.22,449.59 L188.66,449.93 L189.11,450.21 L189.56,450.43 L190.00,450.60 L190.45,450.73 L190.90,450.83 L191.35,450.89 L191.79,450.94 L192.24,450.97 L192.69,450.99 L193.13,450.99 L193.58,451.00 L194.03,451.00 L194.48,451.00 L194.92,451.00 L195.37,451.00 L195.82,451.00 L196.27,450.99 L196.71,450.99 L197.16,450.97 L197.61,450.94 L198.05,450.89 L198.50,450.83 L198.95,450.73 L199.40,450.60 L199.84,450.43 L200.29,450.21 L200.74,449.93 L201.18,449.59 L201.63,449.18 L202.08,448.69 L202.53,448.11 L202.97,447.43 L203.42,446.65 L203.87,445.75 L204.31,444.74 L204.76,443.60 L205.21,442.32 L205.66,440.90 L206.10,439.34 L206.55,437.63 L207.00,435.76 L207.44,433.74 L207.89,431.56 L208.34,429.21 L208.79,426.70 L209.23,424.03 L209.68,421.20 L210.13,418.21 L210.57,415.07 L211.02,411.77 L211.47,408.33 L211.92,404.75 L212.36,401.03 L212.81,397.19 L213.26,393.23 L213.70,389.17 L214.15,385.01 L214.60,380.76 L215.05,376.44 L215.49,372.05 L215.94,367.62 L216.39,363.15 L216.83,358.66 L217.28,354.16 L217.73,349.66 L218.18,345.19 L218.62,340.75 L219.07,336.36 L219.52,332.03 L219.96,327.78 L220.41,323.62 L220.86,319.56 L221.31,315.62 L221.75,311.81 L222.20,308.14 L222.65,304.62 L223.09,301.27 L223.54,298.09 L223.99,295.10 L224.44,292.30 L224.88,289.70 L225.33,287.30 L225.78,285.12 L226.23,283.16 L226.67,281.43 L227.12,279.92 L227.57,278.63 L228.01,277.59 L228.46,276.77 L228.91,276.18 L229.36,275.83 L229.80,275.71 L230.25,275.81 L230.70,276.14 L231.14,276.69 L231.59,277.45 L232.04,278.43 L232.49,279.61 L232.93,280.98 L233.38,282.55 L233.83,284.30 L234.27,286.22 L234.72,288.31 L235.17,290.56 L235.62,292.96 L236.06,295.49 L236.51,298.16 L236.96,300.95 L237.40,303.84 L237.85,306.84 L238.30,309.93 L238.75,313.10 L239.19,316.35 L239.64,319.65 L240.09,323.01 L240.53,326.41 L240.98,329.84 L241.43,333.30 L241.88,336.78 L242.32,340.27 L242.77,343.75 L243.22,347.24 L243.66,350.70 L244.11,354.15 L244.56,357.57 L245.01,360.95 L245.45,364.30 L245.90,367.60 L246.35,370.86 L246.79,374.06 L247.24,377.20 L247.69,380.28 L248.14,383.29 L248.58,386.24 L249.03,389.11 L249.48,391.91 L249.92,394.64 L250.37,397.29 L250.82,399.86 L251.27,402.35 L251.71,404.77 L252.16,407.10 L252.61,409.35 L253.05,411.52 L253.50,413.61 L253.95,415.62 L254.40,417.55 L254.84,419.41 L255.29,421.19 L255.74,422.89 L256.19,424.52 L256.63,426.07 L257.08,427.55 L257.53,428.97 L257.97,430.32 L258.42,431.60 L258.87,432.81 L259.32,433.97 L259.76,435.06 L260.21,436.10 L260.66,437.08 L261.10,438.01 L261.55,438.88 L262.00,439.71 L262.45,440.49 L262.89,441.22 L263.34,441.91 L263.79,442.56 L264.23,443.16 L264.68,443.73 L265.13,444.27 L265.58,444.77 L266.02,445.24 L266.47,445.67 L266.92,446.08 L267.36,446.46 L267.81,446.81 L268.26,447.14 L268.71,447.45 L269.15,447.73 L269.60,448.00 L270.05,448.24 L270.49,448.47 L270.94,448.68 L271.39,448.87 L271.84,449.05 L272.28,449.22 L272.73,449.37 L273.18,449.51 L273.62,449.64 L274.07,449.76 L274.52,449.87 L274.97,449.97 L275.41,450.07 L275.86,450.15 L276.31,450.23 L276.75,450.30 L277.20,450.37 L277.65,450.42 L278.10,450.48 L278.54,450.53 L278.99,450.57 L279.44,450.61 L279.88,450.65 L280.33,450.69 L280.78,450.72 L281.23,450.75 L281.67,450.77 L282.12,450.79 L282.57,450.81 L283.01,450.83 L283.46,450.85 L283.91,450.87 L284.36,450.88 L284.80,450.89 L285.25,450.90 L285.70,450.91 L286.15,450.92 L286.59,450.93 L287.04,450.94 L287.49,450.95 L287.93,450.95 L288.38,450.96 L288.83,450.96 L289.28,450.97 L289.72,450.97 L290.17,450.97 L290.62,450.98 L291.06,450.98 L291.51,450.98 L291.96,450.98 L292.41,450.99 L292.85,450.99 L293.30,450.99 L293.75,450.99 L294.19,450.99 L294.64,450.99 L295.09,450.99 L295.54,450.99 L295.98,450.99 L296.43,451.00 L296.88,451.00 L297.32,451.00 L297.77,451.00 L298.22,451.00 L298.67,451.00 L299.11,451.00 L299.56,451.00 L300.01,451.00 L300.45,451.00 L300.90,451.00 L301.35,451.00 L301.80,451.00 L302.24,451.00 L302.69,451.00 L303.14,451.00 L303.58,451.00 L304.03,451.00 L304.48,451.00 L304.93,451.00 L305.37,451.00 L305.82,451.00 L306.27,451.00 L306.71,451.00 L307.16,451.00 L307.61,451.00 L308.06,451.00 L308.50,451.00 L308.95,451.00 L309.40,451.00 L309.84,451.00 L310.29,451.00 L310.74,451.00 L311.19,451.00 L311.63,451.00 L312.08,451.00 L312.53,451.00 L312.98,451.00 L313.42,451.00 L313.87,451.00 L314.32,451.00 L314.76,451.00 L315.21,451.00 L315.66,451.00 L316.11,451.00 L316.55,451.00 L317.00,451.00 L317.45,451.00 L317.89,451.00 L318.34,451.00 L318.79,451.00 L319.24,451.00 L319.68,451.00 L320.13,451.00 L320.58,451.00 L321.02,451.00 L321.47,451.00 L321.92,451.00 L322.37,451.00 L322.81,451.00 L323.26,451.00 L323.71,451.00 L324.15,451.00 L324.60,451.00 L325.05,451.00 L325.50,451.00 L325.94,451.00 L326.39,451.00 L326.84,451.00 L327.28,451.00 L327.73,451.00 L328.18,451.00 L328.63,451.00 L329.07,451.00 L329.52,451.00 L329.97,451.00 L330.41,451.00 L330.86,451.00 L331.31,451.00 L331.76,451.00 L332.20,451.00 L332.65,451.00 L333.10,451.00 L333.54,451.00 L333.99,451.00 L334.44,451.00 L334.89,451.00 L335.33,451.00 L335.78,451.00 L336.23,451.00 L336.67,451.00 L337.12,451.00 L337.57,451.00 L338.02,451.00 L338.46,451.00 L338.91,451.00 L339.36,451.00 L339.80,451.00 L340.25,451.00 L340.70,451.00 L341.15,451.00 L341.59,451.00 L342.04,451.00 L342.49,451.00 L342.94,451.00 L343.38,451.00 L343.83,451.00 L344.28,451.00 L344.72,451.00 L345.17,451.00 L345.62,451.00 L346.07,451.00 L346.51,451.00 L346.96,451.00 L347.41,451.00 L347.85,451.00 L348.30,451.00 L348.75,451.00 L349.20,451.00 L349.64,451.00 L350.09,451.00 L350.54,451.00 L350.98,451.00" stroke="#d8083a" stroke-width="4.4"/>
</g>
<g fill="none" stroke="#000">
<path d="M54.22,205.40V199.40M54.22,1.00V7.00M124.46,205.40V199.40M124.46,1.00V7.00M194.70,205.40V199.40M194.70,1.00V7.00M264.94,205.40V199.40M264.94,1.00V7.00M335.18,205.40V199.40M335.18,1.00V7.00M40.00,191.00H46.00M349.00,191.00H343.00M40.00,132.50H46.00M349.00,132.50H343.00M40.00,74.00H46.00M349.00,74.00H343.00M40.00,15.50H46.00M349.00,15.50H343.00M54.22,451.00V445.00M54.22,247.00V253.00M124.46,451.00V445.00M124.46,247.00V253.00M194.70,451.00V445.00M194.70,247.00V253.00M264.94,451.00V445.00M264.94,247.00V253.00M335.18,451.00V445.00M335.18,247.00V253.00M40.00,451.00H46.00M349.00,451.00H343.00M40.00,386.64H46.00M349.00,386.64H343.00M40.00,322.28H46.00M349.00,322.28H343.00M40.00,257.92H46.00M349.00,257.92H343.00" stroke-width="1.4"/>
<path d="M71.78,205.40V202.40M71.78,1.00V4.00M89.34,205.40V202.40M89.34,1.00V4.00M106.90,205.40V202.40M106.90,1.00V4.00M142.02,205.40V202.40M142.02,1.00V4.00M159.58,205.40V202.40M159.58,1.00V4.00M177.14,205.40V202.40M177.14,1.00V4.00M212.26,205.40V202.40M212.26,1.00V4.00M229.82,205.40V202.40M229.82,1.00V4.00M247.38,205.40V202.40M247.38,1.00V4.00M282.50,205.40V202.40M282.50,1.00V4.00M300.06,205.40V202.40M300.06,1.00V4.00M317.62,205.40V202.40M317.62,1.00V4.00M40.00,176.38H43.00M349.00,176.38H346.00M40.00,161.75H43.00M349.00,161.75H346.00M40.00,147.12H43.00M349.00,147.12H346.00M40.00,117.88H43.00M349.00,117.88H346.00M40.00,103.25H43.00M349.00,103.25H346.00M40.00,88.62H43.00M349.00,88.62H346.00M40.00,59.38H43.00M349.00,59.38H346.00M40.00,44.75H43.00M349.00,44.75H346.00M40.00,30.12H43.00M349.00,30.12H346.00M71.78,451.00V448.00M71.78,247.00V250.00M89.34,451.00V448.00M89.34,247.00V250.00M106.90,451.00V448.00M106.90,247.00V250.00M142.02,451.00V448.00M142.02,247.00V250.00M159.58,451.00V448.00M159.58,247.00V250.00M177.14,451.00V448.00M177.14,247.00V250.00M212.26,451.00V448.00M212.26,247.00V250.00M229.82,451.00V448.00M229.82,247.00V250.00M247.38,451.00V448.00M247.38,247.00V250.00M282.50,451.00V448.00M282.50,247.00V250.00M300.06,451.00V448.00M300.06,247.00V250.00M317.62,451.00V448.00M317.62,247.00V250.00M40.00,434.91H43.00M349.00,434.91H346.00M40.00,418.82H43.00M349.00,418.82H346.00M40.00,402.73H43.00M349.00,402.73H346.00M40.00,370.55H43.00M349.00,370.55H346.00M40.00,354.46H43.00M349.00,354.46H346.00M40.00,338.37H43.00M349.00,338.37H346.00M40.00,306.19H43.00M349.00,306.19H346.00M40.00,290.10H43.00M349.00,290.10H346.00M40.00,274.01H43.00M349.00,274.01H346.00" stroke-width="1.2"/>
<rect x="40.0" y="1.0" width="309.0" height="204.4" stroke-width="2.0"/>
<rect x="40.0" y="247.0" width="309.0" height="204.0" stroke-width="2.0"/>
</g>
<text x="12.52" y="20.90" class="tl" font-size="17.80" textLength="22.26" lengthAdjust="spacing">0.4</text><text x="12.52" y="79.40" class="tl" font-size="17.80" textLength="22.96" lengthAdjust="spacing">0.2</text><text x="12.52" y="137.90" class="tl" font-size="17.80" textLength="22.66" lengthAdjust="spacing">0.0</text><text x="12.52" y="196.40" class="tl" font-size="17.80" textLength="22.96" lengthAdjust="spacing">0.2</text><rect x="0.30" y="190.78" width="10.30" height="1.05" fill="#000"/><text x="12.44" y="263.32" class="tl" font-size="17.80" textLength="23.05" lengthAdjust="spacing">1.2</text><text x="12.52" y="327.68" class="tl" font-size="17.80" textLength="22.66" lengthAdjust="spacing">0.8</text><text x="12.52" y="392.04" class="tl" font-size="17.80" textLength="22.26" lengthAdjust="spacing">0.4</text><text x="12.52" y="456.40" class="tl" font-size="17.80" textLength="22.66" lengthAdjust="spacing">0.0</text><rect x="44.17" y="219.07" width="10.60" height="1.05" fill="#000"/><text x="56.72" y="224.20" class="tl" font-size="17.80">8</text><rect x="114.41" y="219.07" width="10.60" height="1.05" fill="#000"/><text x="126.96" y="224.20" class="tl" font-size="17.80">4</text><text x="190.25" y="224.20" class="tl" font-size="17.80">0</text><text x="260.49" y="224.20" class="tl" font-size="17.80">4</text><text x="330.73" y="224.20" class="tl" font-size="17.80">8</text><rect x="44.17" y="465.18" width="10.60" height="1.05" fill="#000"/><text x="56.72" y="470.30" class="tl" font-size="17.80">4</text><rect x="114.41" y="465.18" width="10.60" height="1.05" fill="#000"/><text x="126.96" y="470.30" class="tl" font-size="17.80">2</text><text x="190.25" y="470.30" class="tl" font-size="17.80">0</text><text x="260.49" y="470.30" class="tl" font-size="17.80">2</text><text x="330.73" y="470.30" class="tl" font-size="17.80">4</text>
<text x="56.59" y="23.90" class="tt" font-size="18.30" textLength="98.29" lengthAdjust="spacingAndGlyphs">Real domain</text><text x="54.89" y="268.90" class="tt" font-size="18.30" textLength="121.29" lengthAdjust="spacingAndGlyphs">Fourier domain</text><text x="56.16" y="59.80" class="lg" font-size="15.60" textLength="35.57" lengthAdjust="spacingAndGlyphs" fill="#1f77b4">GDW</text><text x="56.04" y="77.00" class="lg" font-size="15.60" textLength="65.81" lengthAdjust="spacingAndGlyphs" fill="#d8083a" font-weight="bold">CW-GDW</text><text x="54.76" y="301.60" class="lg" font-size="15.60" textLength="35.57" lengthAdjust="spacingAndGlyphs" fill="#1f77b4">GDW</text><text x="54.64" y="319.30" class="lg" font-size="15.60" textLength="65.21" lengthAdjust="spacingAndGlyphs" fill="#d8083a" font-weight="bold">CW-GDW</text><text x="190.02" y="239.80" class="ax" font-size="18.00" textLength="8.71" lengthAdjust="spacingAndGlyphs">x</text><text x="190.08" y="486.00" class="ax" font-size="18.00" textLength="8.35" lengthAdjust="spacingAndGlyphs">k</text>
</svg>
</body></html>
